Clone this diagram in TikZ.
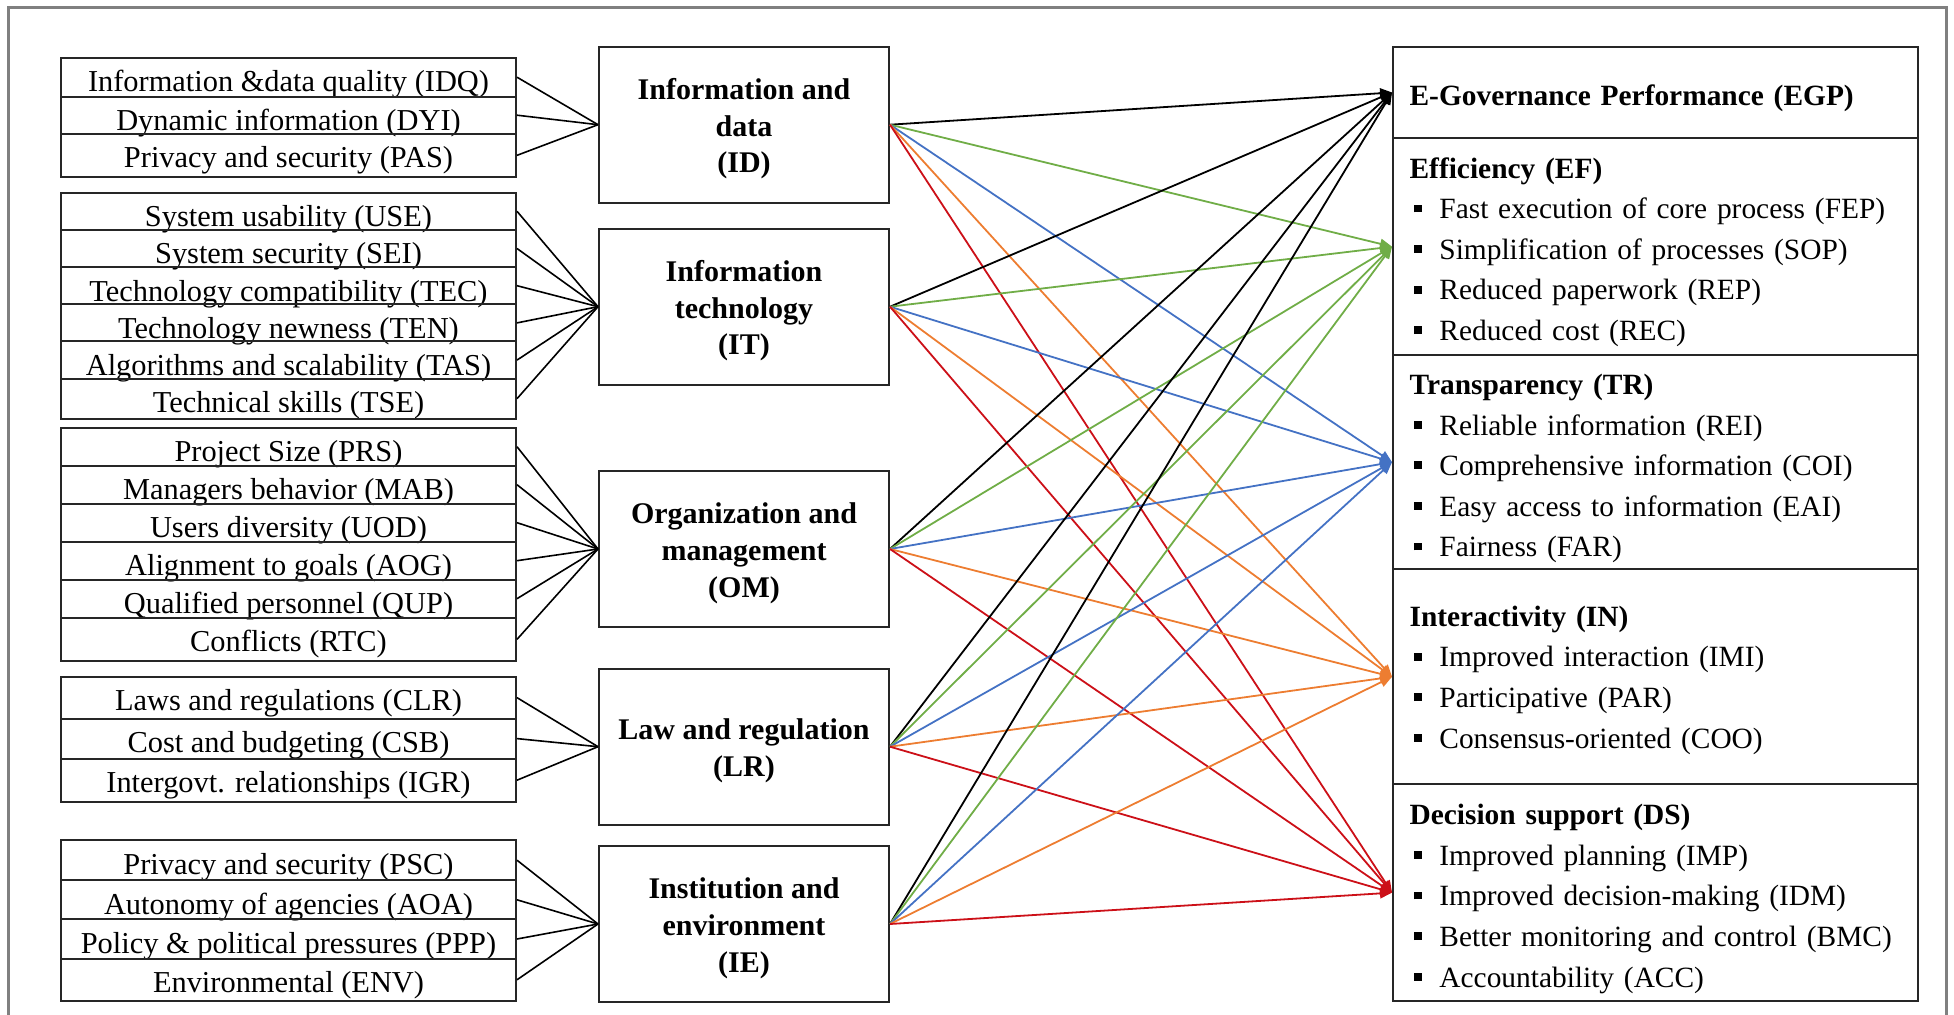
\documentclass[tikz,border=0pt]{standalone}
\usepackage{fontspec}
\setmainfont{Liberation Serif}
\usetikzlibrary{arrows.meta}
\definecolor{cgreen}{RGB}{112,173,71}
\definecolor{cblue}{RGB}{68,114,196}
\definecolor{corange}{RGB}{237,125,49}
\definecolor{cred}{RGB}{204,16,24}
\newcommand\sqb{\hspace*{6.35pt}\rule[3.2pt]{3.9pt}{3.9pt}\hspace*{8.8pt}}
\newcommand\hd[2]{\rule{0pt}{#1}\hspace*{4.15pt}\textbf{#2}}
\newcommand\mstrut{\rule{0pt}{14.75pt}}
\begin{document}
\begin{tikzpicture}[x=0.5pt,y=-0.5pt,
  row/.style={draw=black!85, line width=1pt, rectangle, minimum width=227.5pt, inner sep=0pt, anchor=north, text height=17pt, font=\fontsize{15.2}{18}\selectfont},
  mid/.style={draw=black!85, line width=1pt, rectangle, minimum width=145pt, minimum height=78pt, align=center, anchor=north, font=\bfseries\fontsize{15}{18.35}\selectfont},
  rbox/.style={draw=black!85, line width=1pt, rectangle, text width=254.2pt, inner xsep=4.15pt, inner ysep=0pt, align=left, anchor=north west, font=\fontsize{14.7}{20.3}\selectfont},
  fan/.style={black, line width=0.8pt},
  conn/.style={line width=0.9pt, -{Triangle[length=6pt,width=5pt]}},
  framec/.style={draw=gray, line width=1.5pt}]
\useasboundingbox (0,0) rectangle (1954,1015);
\draw[framec] (8,1015) -- (8,8) -- (1946,8) -- (1946,1015);

% left group 1
\node[row, text depth=2.5pt] (IDQ) at (288.5,56.7) {Information \&data quality (IDQ)};
\node[row, text depth=1.5pt] (DYI) at (288.5,95.7) {Dynamic information (DYI)};
\node[row, text depth=4.65pt] (PAS) at (288.5,132.7) {Privacy and security (PAS)};
% group 2
\node[row, text depth=1.6pt] (USE) at (288.5,191.7) {System usability (USE)};
\node[row, text depth=1.6pt] (SEI) at (288.5,228.9) {System security (SEI)};
\node[row, text depth=1.6pt] (TEC) at (288.5,266.1) {Technology compatibility (TEC)};
\node[row, text depth=1.6pt] (TEN) at (288.5,303.3) {Technology newness (TEN)};
\node[row, text depth=1.6pt] (TAS) at (288.5,340.5) {Algorithms and scalability (TAS)};
\node[row, text depth=3pt] (TSE) at (288.5,377.7) {Technical skills (TSE)};
% group 3
\node[row, text depth=2pt] (PRS) at (288.5,426.7) {Project Size (PRS)};
\node[row, text depth=2pt] (MAB) at (288.5,464.7) {Managers behavior (MAB)};
\node[row, text depth=2pt] (UOD) at (288.5,502.7) {Users diversity (UOD)};
\node[row, text depth=2pt] (AOG) at (288.5,540.7) {Alignment to goals (AOG)};
\node[row, text depth=2pt] (QUP) at (288.5,578.7) {Qualified personnel (QUP)};
\node[row, text depth=4.65pt] (RTC) at (288.5,616.7) {Conflicts (RTC)};
% group 4
\node[row, text depth=3.95pt] (CLR) at (288.5,675.7) {Laws and regulations (CLR)};
\node[row, text depth=3pt] (CSB) at (288.5,717.6) {Cost and budgeting (CSB)};
\node[row, text depth=4.6pt] (IGR) at (288.5,757.6) {Intergovt. relationships (IGR)};
% group 5
\node[row, text depth=3pt] (PSC) at (288.5,839.2) {Privacy and security (PSC)};
\node[row, text depth=2.6pt] (AOA) at (288.5,879.2) {Autonomy of agencies (AOA)};
\node[row, text depth=2.6pt] (PPP) at (288.5,918.4) {Policy \& political pressures (PPP)};
\node[row, text depth=4.2pt] (ENV) at (288.5,957.6) {Environmental (ENV)};

% middle boxes
\node[mid] (ID) at (744,45.7) {\mstrut Information and\\data\\(ID)};
\node[mid] (IT) at (744,227.7) {\mstrut Information\\technology\\(IT)};
\node[mid] (OM) at (744,470) {\mstrut Organization and\\management\\(OM)};
\node[mid] (LR) at (744,667.7) {\mstrut Law and regulation\\(LR)};
\node[mid] (IE) at (744,845) {\mstrut Institution and\\environment\\(IE)};

% fans
\foreach \r in {IDQ,DYI,PAS} \draw[fan] (\r.east) -- (ID.west);
\foreach \r in {USE,SEI,TEC,TEN,TAS,TSE} \draw[fan] (\r.east) -- (IT.west);
\foreach \r in {PRS,MAB,UOD,AOG,QUP,RTC} \draw[fan] (\r.east) -- (OM.west);
\foreach \r in {CLR,CSB,IGR} \draw[fan] (\r.east) -- (LR.west);
\foreach \r in {PSC,AOA,PPP,ENV} \draw[fan] (\r.east) -- (IE.west);

% right boxes
\node[rbox, minimum height=45.8pt] (EGP) at (1392,45.7) {\hd{16.2pt}{E-Governance Performance (EGP)}};
\node[rbox, minimum height=108.35pt] (EF) at (1392,137.3) {\hd{15.8pt}{Efficiency (EF)}\\
\sqb Fast execution of core process (FEP)\\
\sqb Simplification of processes (SOP)\\
\sqb Reduced paperwork (REP)\\
\sqb Reduced cost (REC)};
\node[rbox, minimum height=107.15pt] (TR) at (1392,354) {\hd{16.6pt}{Transparency (TR)}\\
\sqb Reliable information (REI)\\
\sqb Comprehensive information (COI)\\
\sqb Easy access to information (EAI)\\
\sqb Fairness (FAR)};
\node[rbox, minimum height=107.5pt] (IN) at (1392,568.3) {\hd{13.6pt}{Interactivity (IN)}\\
\sqb Improved interaction (IMI)\\
\sqb Participative (PAR)\\
\sqb Consensus-oriented (COO)};
\node[rbox, minimum height=108.35pt] (DS) at (1392,783.3) {\hd{16.4pt}{Decision support (DS)}\\
\sqb Improved planning (IMP)\\
\sqb Improved decision-making (IDM)\\
\sqb Better monitoring and control (BMC)\\
\sqb Accountability (ACC)};

% connectors
\foreach \s in {ID,IT,OM,LR,IE} {
  \draw[conn, black] (\s.east) -- (EGP.west);
  \draw[conn, cgreen] (\s.east) -- (EF.west);
  \draw[conn, cblue] (\s.east) -- (TR.west);
  \draw[conn, corange] (\s.east) -- (IN.west);
  \draw[conn, cred] (\s.east) -- (DS.west);
}
\end{tikzpicture}
\end{document}
